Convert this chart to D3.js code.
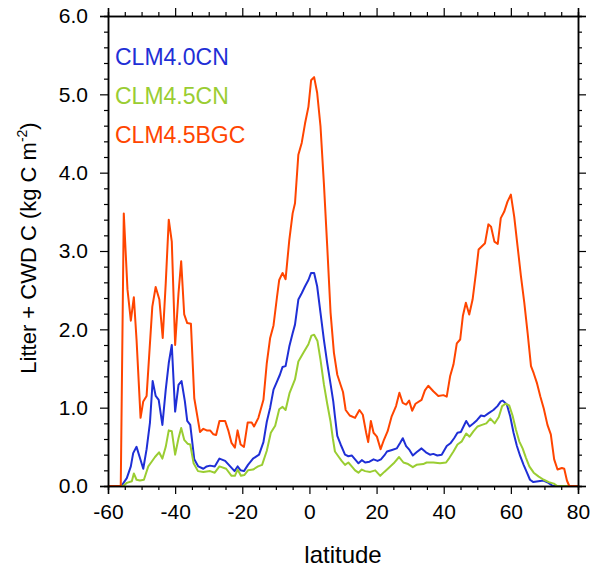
<!DOCTYPE html>
<html>
<head>
<meta charset="utf-8">
<script src="https://cdn.jsdelivr.net/npm/d3@7"></script>
<style>
  body { margin: 0; background: #fff; }
  text { font-family: "Liberation Sans", Arial, Helvetica, sans-serif; }
</style>
</head>
<body>
<div id="chart"></div>
<script>
// latitude / value pairs
const latRed = [-60, -56.2, -55.3, -54.2, -53.2, -52.3, -51.5, -50.3, -49.5, -48.5, -46.8, -45.8, -44.7, -43.7, -42.8, -41.9, -41.0, -40.0, -39.0, -38.2, -37.3, -36.4, -35.3, -34.3, -32.6, -31.6, -30.6, -29.6, -28.6, -27.8, -26.8, -25.1, -24.1, -23.2, -22.2, -21.4, -20.5, -19.5, -18.4, -17.2, -16.5, -15.2, -13.7, -12.7, -11.7, -10.7, -9.7, -9.0, -8.0, -7.1, -6.0, -5.0, -4.3, -3.3, -2.3, -1.3, -0.3, 0.5, 1.4, 2.3, 3.3, 4.3, 5.3, 6.3, 7.3, 8.3, 9.3, 10.0, 10.8, 12.0, 13.6, 14.9, 15.9, 16.9, 17.5, 18.3, 19.1, 20.1, 21.2, 22.2, 23.3, 24.5, 25.8, 26.8, 27.8, 28.8, 29.7, 30.6, 31.6, 33.4, 34.4, 35.4, 36.9, 38.4, 39.9, 40.9, 41.9, 42.9, 43.9, 44.9, 45.7, 46.6, 47.6, 48.6, 49.6, 50.4, 52.3, 53.3, 54.1, 55.1, 56.1, 57.0, 58.0, 59.0, 60.0, 61.0, 62.0, 63.0, 64.0, 65.0, 66.0, 66.8, 67.8, 68.8, 69.8, 70.9, 71.9, 72.9, 73.9, 75.2, 75.9, 76.7, 77.4, 80];
const valRed = [0, 0, 3.48, 2.51, 2.11, 2.41, 1.87, 0.87, 1.08, 1.15, 2.29, 2.54, 2.38, 1.89, 2.59, 3.40, 3.12, 1.80, 2.46, 2.87, 2.19, 2.08, 2.07, 1.12, 0.69, 0.73, 0.71, 0.71, 0.66, 0.65, 0.83, 0.83, 0.70, 0.55, 0.49, 0.71, 0.53, 0.50, 0.81, 0.81, 0.76, 0.87, 1.10, 1.57, 1.89, 2.05, 2.40, 2.63, 2.72, 2.64, 3.14, 3.48, 3.61, 4.23, 4.38, 4.63, 4.84, 5.18, 5.22, 5.02, 4.59, 3.87, 3.06, 2.21, 1.70, 1.42, 1.29, 1.20, 0.97, 0.90, 0.87, 0.97, 0.91, 0.68, 0.56, 0.83, 0.68, 0.63, 0.47, 0.59, 0.70, 0.89, 1.02, 1.19, 1.06, 1.04, 1.09, 0.96, 1.05, 1.10, 1.22, 1.28, 1.21, 1.15, 1.16, 1.14, 1.40, 1.55, 1.82, 1.87, 2.17, 2.34, 2.19, 2.38, 2.72, 3.02, 3.10, 3.34, 3.31, 3.12, 3.09, 3.42, 3.50, 3.63, 3.72, 3.44, 3.06, 2.68, 2.34, 1.95, 1.53, 1.44, 1.31, 1.14, 0.99, 0.78, 0.66, 0.34, 0.21, 0.23, 0.22, 0.07, 0, 0];

const latBlue = [-60, -56.0, -54.4, -53.2, -52.5, -51.5, -50.5, -49.5, -48.5, -47.5, -46.7, -45.8, -44.9, -43.8, -42.8, -41.9, -41.0, -40.0, -39.0, -38.1, -37.1, -36.4, -35.5, -34.3, -33.1, -31.6, -30.6, -29.6, -28.2, -26.8, -25.1, -23.6, -22.3, -21.4, -20.5, -19.5, -18.3, -16.8, -15.0, -13.7, -12.7, -11.7, -10.7, -9.7, -8.8, -8.0, -7.1, -6.0, -5.0, -4.3, -3.3, -2.3, -1.3, -0.3, 0.5, 1.4, 2.3, 3.3, 4.3, 5.3, 6.3, 7.1, 7.6, 8.3, 9.3, 10.6, 11.6, 12.6, 13.6, 14.6, 15.6, 16.6, 17.9, 19.1, 20.3, 21.3, 22.3, 23.1, 24.6, 26.0, 27.0, 27.8, 28.8, 29.8, 30.8, 31.9, 33.4, 34.7, 35.9, 36.9, 38.1, 39.4, 40.9, 42.1, 43.1, 44.1, 45.1, 45.9, 46.7, 47.7, 48.9, 49.9, 51.1, 52.1, 53.4, 54.8, 56.0, 57.0, 57.6, 58.8, 59.8, 60.8, 61.8, 62.8, 63.8, 64.8, 65.7, 66.7, 68.2, 69.7, 71.2, 72.5, 80];
const valBlue = [0, 0, 0.10, 0.25, 0.42, 0.50, 0.36, 0.22, 0.47, 0.81, 1.34, 1.15, 1.10, 0.78, 1.23, 1.57, 1.80, 0.95, 1.29, 1.34, 1.08, 0.83, 0.78, 0.34, 0.25, 0.22, 0.25, 0.26, 0.25, 0.35, 0.32, 0.25, 0.19, 0.25, 0.20, 0.19, 0.27, 0.35, 0.40, 0.56, 0.82, 1.00, 1.23, 1.33, 1.42, 1.52, 1.53, 1.78, 1.95, 2.06, 2.38, 2.46, 2.55, 2.63, 2.72, 2.72, 2.55, 2.21, 1.87, 1.57, 1.30, 1.08, 0.89, 0.64, 0.53, 0.40, 0.38, 0.39, 0.34, 0.29, 0.33, 0.30, 0.31, 0.34, 0.32, 0.34, 0.39, 0.44, 0.46, 0.48, 0.55, 0.61, 0.51, 0.46, 0.39, 0.43, 0.48, 0.43, 0.40, 0.41, 0.39, 0.40, 0.51, 0.55, 0.61, 0.68, 0.69, 0.76, 0.83, 0.76, 0.80, 0.84, 0.90, 0.89, 0.93, 0.97, 1.02, 1.08, 1.09, 1.04, 0.89, 0.68, 0.51, 0.38, 0.27, 0.17, 0.08, 0.05, 0.06, 0.07, 0.04, 0, 0];

const latGreen = [-60, -55.5, -54.4, -52.9, -52.3, -51.5, -50.5, -49.3, -48.0, -47.0, -46.0, -44.8, -43.8, -42.8, -41.9, -41.0, -40.0, -39.0, -38.2, -37.3, -36.3, -35.5, -34.5, -33.2, -31.6, -29.6, -28.2, -26.8, -24.8, -23.2, -22.2, -21.4, -20.4, -19.4, -18.3, -16.8, -15.3, -14.1, -12.7, -11.5, -10.2, -9.0, -8.0, -7.1, -5.9, -4.3, -3.3, -1.8, -0.3, 0.6, 1.4, 2.4, 3.3, 4.3, 5.3, 6.3, 7.0, 7.6, 8.6, 9.6, 10.6, 11.6, 12.6, 13.6, 14.6, 15.6, 16.6, 18.1, 19.6, 21.1, 22.3, 23.6, 25.1, 26.7, 28.0, 29.4, 30.8, 31.9, 33.9, 34.9, 36.9, 38.9, 40.7, 41.7, 42.9, 44.1, 45.4, 46.7, 47.7, 48.9, 50.1, 51.4, 52.7, 53.9, 55.2, 56.4, 57.4, 58.4, 59.5, 60.5, 61.5, 62.5, 63.5, 64.5, 65.5, 66.8, 68.3, 69.8, 71.3, 72.8, 73.8, 80];
const valGreen = [0, 0, 0.04, 0.06, 0.16, 0.08, 0.07, 0.08, 0.25, 0.31, 0.37, 0.43, 0.35, 0.50, 0.71, 0.70, 0.40, 0.61, 0.74, 0.59, 0.54, 0.53, 0.29, 0.19, 0.18, 0.19, 0.17, 0.25, 0.22, 0.13, 0.13, 0.21, 0.13, 0.14, 0.20, 0.21, 0.25, 0.27, 0.45, 0.68, 0.77, 0.98, 1.01, 0.97, 1.19, 1.36, 1.59, 1.70, 1.81, 1.92, 1.93, 1.85, 1.61, 1.30, 1.05, 0.82, 0.60, 0.44, 0.38, 0.32, 0.27, 0.30, 0.25, 0.20, 0.17, 0.21, 0.19, 0.18, 0.20, 0.13, 0.18, 0.23, 0.29, 0.37, 0.30, 0.28, 0.24, 0.27, 0.28, 0.30, 0.30, 0.29, 0.30, 0.36, 0.44, 0.53, 0.57, 0.67, 0.63, 0.70, 0.76, 0.78, 0.80, 0.86, 0.80, 0.88, 1.02, 1.05, 1.03, 0.90, 0.72, 0.57, 0.48, 0.36, 0.25, 0.17, 0.12, 0.08, 0.05, 0.03, 0, 0];

const seriesNames = ["CLM4.0CN", "CLM4.5CN", "CLM4.5BGC"];
const seriesColors = ["#1f2fd6", "#9acd32", "#ff4500"];

const xTicks = [-60, -40, -20, 0, 20, 40, 60, 80];
const yTicks = [0, 1, 2, 3, 4, 5, 6];

const margin = { top: 16, right: 13, bottom: 84, left: 108 };
const W = 591, H = 570;
const width = W - margin.left - margin.right;
const height = H - margin.top - margin.bottom;

const svg = d3.select("#chart").append("svg")
    .attr("width", W)
    .attr("height", H);

const g = svg.append("g")
    .attr("transform", `translate(${margin.left},${margin.top})`);

const x = d3.scaleLinear().domain([-60, 80]).range([0, width]);
const y = d3.scaleLinear().domain([0, 6]).range([height, 0]);

const xMinor = d3.range(-60, 81, 5).filter(v => v % 20 !== 0);
const yMinor = d3.range(0, 31, 1).map(v => v / 5).filter(v => Math.abs(v - Math.round(v)) > 1e-6);

// lines first, frame on top
const line = d3.line()
    .x(d => x(d[0]))
    .y(d => y(d[1]));

const allSeries = [
    { lat: latBlue, val: valBlue },
    { lat: latGreen, val: valGreen },
    { lat: latRed, val: valRed }
];

allSeries.forEach((s, i) => {
    g.append("path")
        .datum(s.lat.map((l, j) => [l, s.val[j]]))
        .attr("fill", "none")
        .attr("stroke", seriesColors[i])
        .attr("stroke-width", 2)
        .attr("stroke-linejoin", "round")
        .attr("d", line);
});

// axes
const styleAxis = (sel) => {
    sel.select(".domain").attr("stroke", "#000").attr("stroke-width", 1.5);
    sel.selectAll(".tick line").attr("stroke", "#000").attr("stroke-width", 1.2);
    sel.selectAll(".tick text")
        .attr("fill", "#000")
        .style("font-size", "21px");
};

g.append("g")
    .attr("transform", `translate(0,${height})`)
    .call(d3.axisBottom(x).tickValues(xTicks).tickSize(8).tickPadding(10).tickFormat(d => String(d)))
    .call(styleAxis);
g.append("g")
    .attr("transform", `translate(0,${height})`)
    .call(d3.axisBottom(x).tickValues(xMinor).tickSize(4).tickFormat(""))
    .call(styleAxis);

g.append("g")
    .call(d3.axisTop(x).tickValues(xTicks).tickSize(8).tickFormat(""))
    .call(styleAxis);
g.append("g")
    .call(d3.axisTop(x).tickValues(xMinor).tickSize(4).tickFormat(""))
    .call(styleAxis);

g.append("g")
    .call(d3.axisLeft(y).tickValues(yTicks).tickSize(8).tickPadding(12).tickFormat(d => d.toFixed(1)))
    .call(styleAxis);
g.append("g")
    .call(d3.axisLeft(y).tickValues(yMinor).tickSize(4).tickFormat(""))
    .call(styleAxis);

g.append("g")
    .attr("transform", `translate(${width},0)`)
    .call(d3.axisRight(y).tickValues(yTicks).tickSize(8).tickFormat(""))
    .call(styleAxis);
g.append("g")
    .attr("transform", `translate(${width},0)`)
    .call(d3.axisRight(y).tickValues(yMinor).tickSize(4).tickFormat(""))
    .call(styleAxis);

// axis titles
svg.append("text")
    .attr("x", margin.left + width / 2)
    .attr("y", 563)
    .attr("text-anchor", "middle")
    .style("font-size", "24px")
    .text("latitude");

const yLab = svg.append("text")
    .attr("transform", `translate(36,248) rotate(-90)`)
    .attr("text-anchor", "middle")
    .style("font-size", "22px");
yLab.append("tspan").text("Litter + CWD C (kg C m");
yLab.append("tspan").attr("dy", -9).style("font-size", "14px").text("-2");
yLab.append("tspan").attr("dy", 9).text(")");

// legend
seriesNames.forEach((name, i) => {
    svg.append("text")
        .attr("x", 115)
        .attr("y", 65 + i * 39)
        .attr("fill", seriesColors[i])
        .style("font-size", "23px")
        .text(name);
});
</script>
</body>
</html>
